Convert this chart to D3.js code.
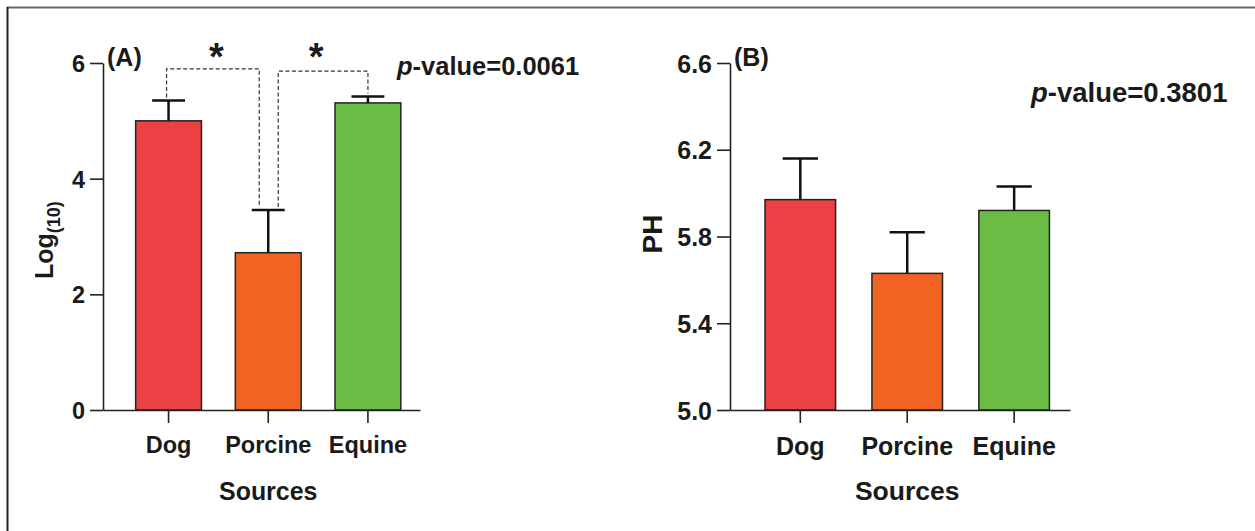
<!DOCTYPE html>
<html>
<head>
<meta charset="utf-8">
<script src="https://cdn.jsdelivr.net/npm/d3@7"></script>
<style>
  body { margin: 0; background: #fff; }
  svg text { font-family: "Liberation Sans", Arial, sans-serif; fill: #1a1a1a; }
</style>
</head>
<body>
<div id="chart"></div>
<script>
const width = 1255,
  height = 531;

// data
const categories = ["Dog", "Porcine", "Equine"];
const logMeans = [5.0, 2.72, 5.31];
const logErrors = [0.35, 0.74, 0.11];
const logTicks = [0, 2, 4, 6];
const phMeans = [5.97, 5.63, 5.92];
const phErrors = [0.19, 0.19, 0.11];
const phTicks = [5.0, 5.4, 5.8, 6.2, 6.6];
const sigPairs = [[0, 1], [1, 2]];
const sigLevels = [5.9, 5.86];

const colors = ["#ec4144", "#f16322", "#6bbc45"];

const svg = d3
  .select("#chart")
  .append("svg")
  .attr("width", width)
  .attr("height", height);

// frame lines of the figure
svg.append("line").attr("x1", 7).attr("x2", width).attr("y1", 7.5).attr("y2", 7.5)
  .attr("stroke", "#666").attr("stroke-width", 2);
svg.append("line").attr("x1", 7.5).attr("x2", 7.5).attr("y1", 7).attr("y2", height)
  .attr("stroke", "#222").attr("stroke-width", 2);

function drawPanel(p) {
  const g = svg.append("g");

  const x = d3.scaleBand()
    .domain(categories)
    .range([p.left, p.right])
    .paddingInner(0.34)
    .paddingOuter(0.26)
    .align(0.63);

  const y = d3.scaleLinear().domain(p.domain).range([410, 63]);

  // bars
  g.selectAll("rect.bar")
    .data(p.means)
    .join("rect")
    .attr("class", "bar")
    .attr("x", (d, i) => x(categories[i]))
    .attr("y", (d) => y(d))
    .attr("width", x.bandwidth())
    .attr("height", (d) => y(p.domain[0]) - y(d))
    .attr("fill", (d, i) => colors[i])
    .attr("stroke", "#222")
    .attr("stroke-width", 1.5);

  // error bars (upper only)
  const cap = x.bandwidth() * 0.25;
  g.selectAll("path.err")
    .data(p.means)
    .join("path")
    .attr("class", "err")
    .attr("fill", "none")
    .attr("stroke", "#111")
    .attr("stroke-width", 2.5)
    .attr("d", function (d, i) {
      const cx = x(categories[i]) + x.bandwidth() / 2;
      const top = y(d + p.errors[i]);
      return `M${cx},${y(d)}V${top}M${cx - cap},${top}H${cx + cap}`;
    });

  // y axis
  const yAxis = g.append("g")
    .attr("transform", `translate(${p.left},0)`)
    .call(d3.axisLeft(y).tickValues(p.ticks).tickFormat(p.fmt).tickSize(13).tickSizeOuter(0).tickPadding(5));

  // x axis
  const xAxis = g.append("g")
    .attr("transform", "translate(0,410)")
    .call(d3.axisBottom(x).tickSize(13).tickSizeOuter(0).tickPadding(9));

  [yAxis, xAxis].forEach((a) => {
    a.selectAll("path, line").attr("stroke", "#222").attr("stroke-width", 1.6);
    a.selectAll("text")
      .attr("fill", "#1a1a1a")
      .style("font-size", p.fs + "px")
      .style("font-weight", "bold");
  });
  yAxis.selectAll("text").attr("dy", "0.36em");
  xAxis.selectAll("text").attr("dy", "0.9em");

  // axis titles
  g.append("text")
    .attr("x", x(categories[1]) + x.bandwidth() / 2)
    .attr("y", 500)
    .attr("text-anchor", "middle")
    .style("font-size", p.fs * 1.06 + "px")
    .style("font-weight", "bold")
    .text("Sources");

  // panel letter
  g.append("text")
    .attr("x", p.left + 4)
    .attr("y", 66)
    .style("font-size", "25px")
    .style("font-weight", "bold")
    .text(p.letter);

  // p-value
  const pv = g.append("text")
    .attr("x", p.pvX)
    .attr("y", p.pvY)
    .style("font-size", p.pvSize + "px")
    .style("font-weight", "bold");
  pv.append("tspan").style("font-style", "italic").text("p");
  pv.append("tspan").text("-value=" + p.pValue);

  return { g, x, y };
}

const A = drawPanel({
  left: 103, right: 420, domain: [0, 6],
  means: logMeans, errors: logErrors, ticks: logTicks,
  fmt: d3.format("d"), fs: 23.5, letter: "(A)",
  pValue: "0.0061", pvX: 397, pvY: 75, pvSize: 25.5
});

const B = drawPanel({
  left: 730, right: 1070, domain: [5.0, 6.6],
  means: phMeans, errors: phErrors, ticks: phTicks,
  fmt: d3.format(".1f"), fs: 25, letter: "(B)",
  pValue: "0.3801", pvX: 1031, pvY: 102, pvSize: 27.5
});

// y axis titles
const logLabel = A.g.append("text")
  .attr("transform", "translate(53,279) rotate(-90)")
  .style("font-size", "25px")
  .style("font-weight", "bold");
logLabel.append("tspan").text("Log");
logLabel.append("tspan").attr("dy", 7).style("font-size", "18px").text("(10)");

B.g.append("text")
  .attr("transform", "translate(662,234) rotate(-90)")
  .attr("text-anchor", "middle")
  .style("font-size", "28px")
  .style("font-weight", "bold")
  .text("PH");

// significance brackets in panel A
const ax = A.x, ay = A.y, bw = ax.bandwidth();
const centre = (i) => ax(categories[i]) + bw / 2;
const legTop = (i) => ay(logMeans[i] + logErrors[i]) - 3;

A.g.selectAll("path.sig")
  .data(sigPairs)
  .join("path")
  .attr("class", "sig")
  .attr("fill", "none")
  .attr("stroke", "#333")
  .attr("stroke-width", 1.2)
  .attr("stroke-dasharray", "4,2.5")
  .attr("d", function (d, k) {
    const lv = ay(sigLevels[k]);
    const x1 = centre(d[0]) + (k === 1 ? 10 : -2);
    const x2 = centre(d[1]) + (k === 0 ? -9 : 0);
    return `M${x1},${legTop(d[0])}V${lv}H${x2}V${legTop(d[1])}`;
  });

A.g.selectAll("text.star")
  .data(sigPairs)
  .join("text")
  .attr("class", "star")
  .attr("x", (d) => (centre(d[0]) + centre(d[1])) / 2 - 2)
  .attr("y", 70)
  .attr("text-anchor", "middle")
  .style("font-size", "38px")
  .style("font-weight", "bold")
  .text("*");
</script>
</body>
</html>
